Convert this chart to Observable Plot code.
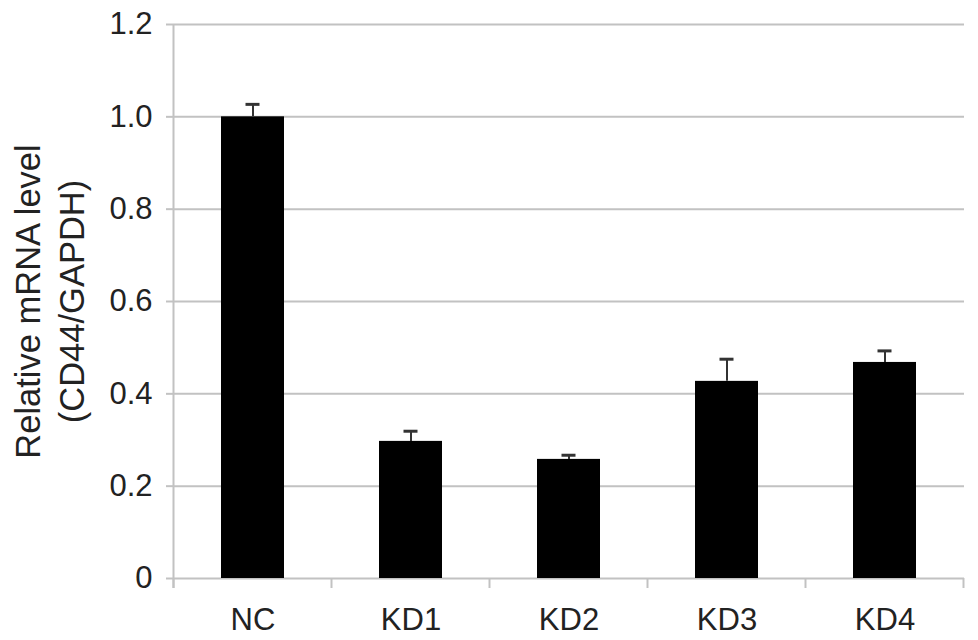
<!DOCTYPE html>
<html><head><meta charset="utf-8">
<script src="https://cdn.jsdelivr.net/npm/d3@7"></script>
<script src="https://cdn.jsdelivr.net/npm/@observablehq/plot@0.6"></script>
<style>body{margin:0;background:#fff} svg{display:block}</style>
</head><body><div id="chart"></div>
<script>
const categories = ["NC", "KD1", "KD2", "KD3", "KD4"];
const values = [1.0, 0.297, 0.258, 0.427, 0.468];
const errors = [0.027, 0.022, 0.009, 0.048, 0.025];
const yTicks = [0, 0.2, 0.4, 0.6, 0.8, 1.0, 1.2];
const yLabel = "Relative mRNA level\n(CD44/GAPDH)";

const data = categories.map((c, i) => ({cat: c, value: values[i], err: errors[i]}));
const grid = "#c2c2c2";
const ink = "#222";

const plot = Plot.plot({
  width: 978, height: 640,
  marginLeft: 173, marginRight: 14, marginTop: 24, marginBottom: 62,
  style: {fontFamily: "'Liberation Sans', Arial, sans-serif", fontSize: "31px", background: "#fff", color: ink},
  x: {domain: categories, paddingInner: 0.6, paddingOuter: 0.3, label: null},
  y: {domain: [0, 1.2], label: null},
  marks: [
    Plot.ruleY(yTicks, {stroke: grid, strokeWidth: 2}),
    Plot.axisY({ticks: yTicks, tickFormat: d => d === 0 ? "0" : d.toFixed(1), tickSize: 7, tickPadding: 14,
      stroke: grid, strokeWidth: 2, fill: ink, label: null}),
    Plot.axisX({tickSize: 0, tickPadding: 29, fill: ink, label: null}),
    Plot.barY(data, {x: "cat", y: "value", fill: "#000"}),
    Plot.ruleX(data, {x: "cat", y1: "value", y2: d => d.value + d.err, stroke: "#333", strokeWidth: 2}),
    Plot.tickY(data, {x: "cat", y: d => d.value + d.err, stroke: "#333", strokeWidth: 3, insetLeft: 24.5, insetRight: 24.5}),
    Plot.text([yLabel], {text: d => d, frameAnchor: "left", rotate: -90, dx: -126, fontSize: 34.5,
      lineHeight: 1.275, fill: ink, textAnchor: "middle", lineAnchor: "middle"})
  ]
});

// axis line and category boundary ticks, from the plot's own scales
const sx = plot.scale("x"), sy = plot.scale("y");
const half = (sx.step - sx.bandwidth) / 2;
const bounds = categories.map(c => sx.apply(c) - half);
bounds.push(bounds[bounds.length - 1] + sx.step);
const y0 = sy.apply(0), yTop = sy.apply(1.2);
const g = d3.select(plot).append("g").attr("stroke", grid).attr("stroke-width", 2);
g.append("line").attr("x1", bounds[0]).attr("x2", bounds[0]).attr("y1", yTop).attr("y2", y0 + 10);
g.selectAll("line.tk").data(bounds).join("line").attr("class", "tk")
  .attr("x1", d => d).attr("x2", d => d).attr("y1", y0).attr("y2", y0 + 10);

document.getElementById("chart").append(plot);
</script>
</body></html>
